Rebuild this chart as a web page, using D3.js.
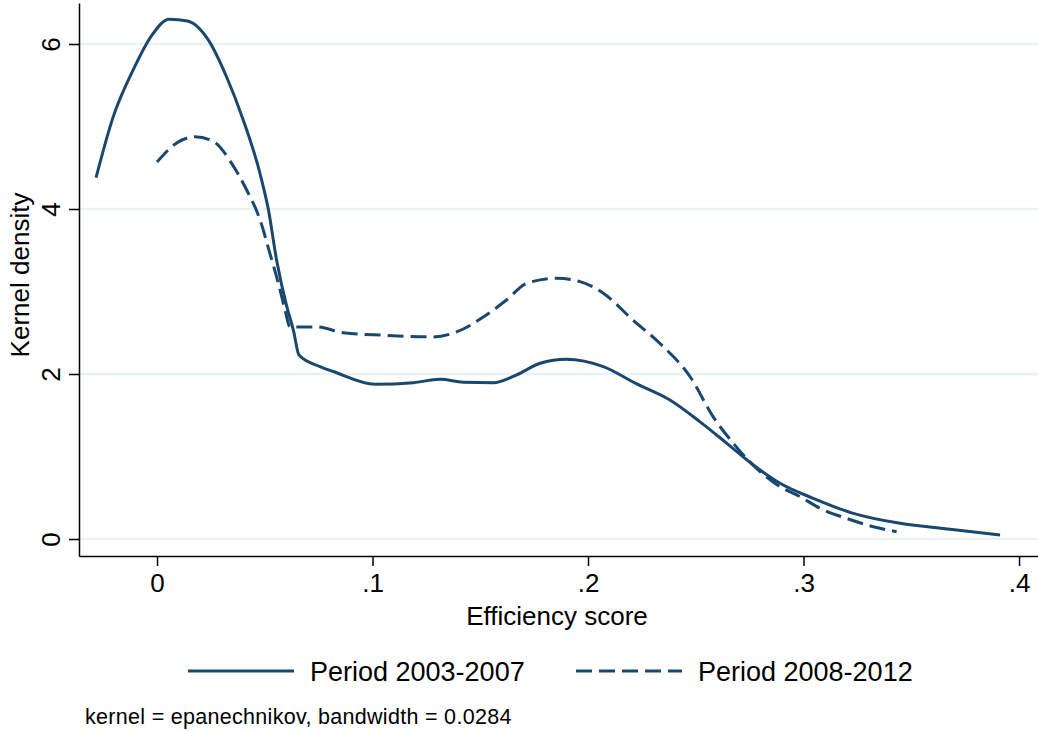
<!DOCTYPE html>
<html>
<head>
<meta charset="utf-8">
<script src="https://cdn.jsdelivr.net/npm/d3@7"></script>
<style>
  body { margin: 0; background: #fff; }
  svg { display: block; font-family: "Liberation Sans", Arial, sans-serif; }
</style>
</head>
<body>
<svg id="chart" width="1038" height="731"></svg>
<script>
// Data: efficiency score (x) and kernel density (y)
const period1X = [-0.0283, -0.0203, -0.011, -0.0028, 0.0057, 0.0141, 0.0238, 0.0323, 0.040, 0.0478, 0.0517, 0.0555, 0.0602, 0.0633, 0.0659,
                  0.0756, 0.0818, 0.1012, 0.119, 0.1313, 0.1421, 0.156, 0.1669, 0.1777, 0.190, 0.2071, 0.2226, 0.238, 0.252,
                  0.2644, 0.2767, 0.2891, 0.3045, 0.3231, 0.3448, 0.368, 0.3912];
const period1Y = [4.38, 5.12, 5.69, 6.09, 6.30, 6.28, 6.05, 5.60, 5.08, 4.43, 3.99, 3.38, 2.82, 2.53, 2.23,
                  2.09, 2.03, 1.875, 1.895, 1.935, 1.9, 1.895, 1.99, 2.13, 2.18, 2.09, 1.88, 1.685, 1.42,
                  1.16, 0.897, 0.675, 0.493, 0.311, 0.19, 0.118, 0.048];

const period2X = [0.0, 0.0091, 0.0176, 0.0261, 0.0347, 0.0416, 0.0478, 0.0524, 0.0563, 0.0594, 0.0617,
                  0.0741, 0.0865, 0.105, 0.1282, 0.139, 0.1514, 0.1623, 0.1716, 0.1855, 0.1963, 0.2071, 0.221, 0.2334,
                  0.2473, 0.2581, 0.2674, 0.2782, 0.2891, 0.2984, 0.3077, 0.32, 0.3324, 0.3432];
const period2Y = [4.57, 4.80, 4.876, 4.82, 4.55, 4.23, 3.87, 3.46, 3.10, 2.78, 2.57,
                  2.57, 2.50, 2.47, 2.45, 2.51, 2.69, 2.90, 3.10, 3.16, 3.12, 2.98, 2.65, 2.37,
                  1.97, 1.48, 1.16, 0.857, 0.634, 0.513, 0.372, 0.25, 0.149, 0.089];

const seriesNames = ["Period 2003-2007", "Period 2008-2012"];
const xTicks = [0, 0.1, 0.2, 0.3, 0.4];
const yTicks = [0, 2, 4, 6];
const xTitle = "Efficiency score";
const yTitle = "Kernel density";
const noteText = "kernel = epanechnikov, bandwidth = 0.0284";

const navy = "#1a476f";
const gridColor = "#eaf2f3";

const svg = d3.select("#chart");

// Skala
const x = d3.scaleLinear().domain([-0.0362, 0.4088]).range([79, 1038]);
const y = d3.scaleLinear().domain([-0.206, 6.497]).range([556, 3]);

const fmtX = d => d === 0 ? "0" : d3.format(".1f")(d).replace(/^0/, "");

// Grid horizontal
svg.append("g")
    .selectAll("line")
    .data(yTicks)
    .enter().append("line")
    .attr("x1", x.range()[0]).attr("x2", x.range()[1])
    .attr("y1", d => y(d)).attr("y2", d => y(d))
    .attr("stroke", gridColor)
    .attr("stroke-width", 2.5);

// Sumbu X
svg.append("g")
    .attr("transform", `translate(0,${y.range()[0]})`)
    .call(d3.axisBottom(x).tickValues(xTicks).tickFormat(fmtX).tickSize(10).tickSizeOuter(0).tickPadding(8))
    .call(g => g.select(".domain").attr("stroke", "#000").attr("stroke-width", 1.5))
    .call(g => g.selectAll(".tick line").attr("stroke", "#000").attr("stroke-width", 1.5))
    .call(g => g.selectAll(".tick text")
        .attr("font-size", 26).attr("fill", "#000")
        .attr("font-family", "Liberation Sans, Arial, sans-serif"));

// Sumbu Y
svg.append("g")
    .attr("transform", `translate(${x.range()[0]},0)`)
    .call(d3.axisLeft(y).tickValues(yTicks).tickFormat(d3.format("d")).tickSize(10).tickSizeOuter(0).tickPadding(0))
    .call(g => g.select(".domain").attr("stroke", "#000").attr("stroke-width", 1.5))
    .call(g => g.selectAll(".tick line").attr("stroke", "#000").attr("stroke-width", 1.5))
    .call(g => g.selectAll(".tick text")
        .attr("font-size", 26).attr("fill", "#000")
        .attr("font-family", "Liberation Sans, Arial, sans-serif")
        .attr("text-anchor", "middle")
        .attr("dy", null).attr("x", null)
        .attr("transform", "translate(-28,0) rotate(-90)")
        .attr("dominant-baseline", "central"));

// Kurva
const line = d3.line()
    .x(d => x(d[0]))
    .y(d => y(d[1]))
    .curve(d3.curveMonotoneX);

const data1 = period1X.map((v, i) => [v, period1Y[i]]);
const data2 = period2X.map((v, i) => [v, period2Y[i]]);

svg.append("path")
    .datum(data1)
    .attr("d", line)
    .attr("fill", "none")
    .attr("stroke", navy)
    .attr("stroke-width", 3)
    .attr("stroke-linejoin", "round");

svg.append("path")
    .datum(data2)
    .attr("d", line)
    .attr("fill", "none")
    .attr("stroke", navy)
    .attr("stroke-width", 3)
    .attr("stroke-dasharray", "16,7");

// Judul sumbu
svg.append("text")
    .attr("x", 557).attr("y", 625)
    .attr("text-anchor", "middle")
    .attr("font-size", 26)
    .text(xTitle);

svg.append("text")
    .attr("transform", "translate(29,275) rotate(-90)")
    .attr("text-anchor", "middle")
    .attr("font-size", 26)
    .text(yTitle);

// Legenda
const legend = svg.append("g");
const legendItems = [
    { name: seriesNames[0], x1: 188, x2: 294, tx: 310, dash: null },
    { name: seriesNames[1], x1: 576, x2: 682, tx: 698, dash: "16,7" }
];
legendItems.forEach(it => {
    legend.append("line")
        .attr("x1", it.x1).attr("x2", it.x2)
        .attr("y1", 671).attr("y2", 671)
        .attr("stroke", navy)
        .attr("stroke-width", 3)
        .attr("stroke-dasharray", it.dash);
    legend.append("text")
        .attr("x", it.tx).attr("y", 681)
        .attr("font-size", 27)
        .text(it.name);
});

// Catatan
svg.append("text")
    .attr("x", 85).attr("y", 724)
    .attr("font-size", 21.5)
    .attr("letter-spacing", 0.3)
    .text(noteText);
</script>
</body>
</html>
